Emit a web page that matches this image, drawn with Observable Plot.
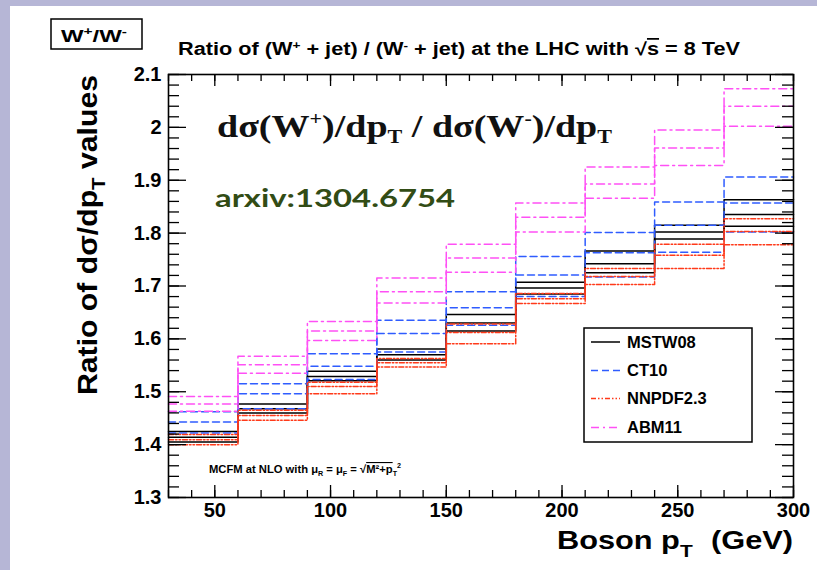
<!DOCTYPE html>
<html><head><meta charset="utf-8">
<script src="https://cdn.jsdelivr.net/npm/d3@7"></script>
<script src="https://cdn.jsdelivr.net/npm/@observablehq/plot@0.6"></script>
<style>
html,body{margin:0;padding:0;width:817px;height:570px;overflow:hidden;background:#b6b6d6;}
#panel{position:absolute;left:10px;top:6px;width:807px;height:564px;background:#fff;}
#chart{position:absolute;left:0;top:0;}
#overlay{position:absolute;left:0;top:0;}
</style></head><body>
<div id="panel"></div>
<div id="chart"></div>
<svg id="overlay" width="817" height="570"></svg>
<script>
// ---- data ----
const binEdges = [30, 60, 90, 120, 150, 180, 210, 240, 270, 300];
const seriesNames = ["MSTW08", "CT10", "NNPDF2.3", "ABM11"];

const mstwUp      = [1.425, 1.477, 1.539, 1.581, 1.646, 1.707, 1.766, 1.815, 1.863];
const mstwCentral = [1.414, 1.468, 1.529, 1.570, 1.630, 1.696, 1.742, 1.802, 1.835];
const mstwDown    = [1.405, 1.460, 1.521, 1.560, 1.615, 1.685, 1.725, 1.789, 1.813];

const ct10Up      = [1.462, 1.515, 1.572, 1.635, 1.689, 1.756, 1.801, 1.859, 1.906];
const ct10Central = [1.443, 1.496, 1.548, 1.610, 1.659, 1.721, 1.763, 1.815, 1.857];
const ct10Down    = [1.422, 1.468, 1.523, 1.575, 1.626, 1.680, 1.717, 1.764, 1.802];

const nnpdfUp      = [1.419, 1.465, 1.518, 1.563, 1.628, 1.686, 1.733, 1.779, 1.827];
const nnpdfCentral = [1.409, 1.455, 1.510, 1.555, 1.612, 1.676, 1.718, 1.758, 1.803];
const nnpdfDown    = [1.400, 1.446, 1.496, 1.547, 1.591, 1.667, 1.703, 1.733, 1.778];

const abmUp      = [1.491, 1.567, 1.633, 1.715, 1.779, 1.857, 1.925, 1.995, 2.073];
const abmCentral = [1.477, 1.551, 1.615, 1.689, 1.753, 1.830, 1.893, 1.961, 2.040];
const abmDown    = [1.463, 1.535, 1.597, 1.668, 1.726, 1.802, 1.866, 1.928, 2.002];

const yMajor = [1.3, 1.4, 1.5, 1.6, 1.7, 1.8, 1.9, 2.0, 2.1];
const xMajor = [50, 100, 150, 200, 250, 300];
const yMinor = d3.range(1.30, 2.1001, 0.02);
const xMinor = d3.range(30, 301, 10);

// ---- styles ----
const styles = {
  "MSTW08":   {stroke: "#000000", dash: null},
  "CT10":     {stroke: "#2f5cff", dash: "7,4"},
  "NNPDF2.3": {stroke: "#ff3a1a", dash: "5,2,1.5,2,1.5,2"},
  "ABM11":    {stroke: "#ff50f5", dash: "8,4,2,4"}
};

function stepRows(values, band) {
  return values.flatMap((v, i) => [
    {band, x: binEdges[i], y: v},
    {band, x: binEdges[i + 1], y: v}
  ]);
}
const seriesData = {
  "MSTW08":   [...stepRows(mstwUp, "u"), ...stepRows(mstwCentral, "c"), ...stepRows(mstwDown, "d")],
  "CT10":     [...stepRows(ct10Up, "u"), ...stepRows(ct10Central, "c"), ...stepRows(ct10Down, "d")],
  "NNPDF2.3": [...stepRows(nnpdfUp, "u"), ...stepRows(nnpdfCentral, "c"), ...stepRows(nnpdfDown, "d")],
  "ABM11":    [...stepRows(abmUp, "u"), ...stepRows(abmCentral, "c"), ...stepRows(abmDown, "d")]
};

const W = 817, H = 570, mL = 168, mR = 24, mT = 74, mB = 73;
const fw = W - mL - mR, fh = H - mT - mB;

const lineMarks = seriesNames.map(name => Plot.line(seriesData[name], {
  x: "x", y: "y", z: "band",
  stroke: styles[name].stroke, strokeWidth: 1.5,
  strokeDasharray: styles[name].dash || undefined
}));

const plot = Plot.plot({
  width: W, height: H,
  marginLeft: mL, marginRight: mR, marginTop: mT, marginBottom: mB,
  style: {background: "transparent", fontFamily: "'Liberation Sans', Arial, sans-serif", fontSize: "20px", fontWeight: "bold", color: "#000"},
  x: {domain: [30, 300]},
  y: {domain: [1.3, 2.1]},
  marks: [
    ...lineMarks,
    Plot.tickY(yMinor, {y: d => d, insetRight: fw - 11, stroke: "#000", strokeWidth: 1.3}),
    Plot.tickY(yMajor, {y: d => d, insetRight: fw - 18, stroke: "#000", strokeWidth: 1.3}),
    Plot.tickY(yMinor, {y: d => d, insetLeft: fw - 11, stroke: "#000", strokeWidth: 1.3}),
    Plot.tickY(yMajor, {y: d => d, insetLeft: fw - 18, stroke: "#000", strokeWidth: 1.3}),
    Plot.tickX(xMinor, {x: d => d, insetTop: fh - 7, stroke: "#000", strokeWidth: 1.3}),
    Plot.tickX(xMajor, {x: d => d, insetTop: fh - 12, stroke: "#000", strokeWidth: 1.3}),
    Plot.tickX(xMinor, {x: d => d, insetBottom: fh - 7, stroke: "#000", strokeWidth: 1.3}),
    Plot.tickX(xMajor, {x: d => d, insetBottom: fh - 12, stroke: "#000", strokeWidth: 1.3}),
    Plot.axisY(yMajor, {tickSize: 0, tickPadding: 7, tickFormat: d => d3.format("~g")(d), label: null}),
    Plot.axisX(xMajor, {tickSize: 0, tickPadding: 5, label: null}),
    Plot.frame({stroke: "#000", strokeWidth: 1.6})
  ]
});
document.getElementById("chart").appendChild(plot);

// ---- annotations ----
const ov = d3.select("#overlay");
const sans = "'Liberation Sans', Arial, sans-serif";

// box label
ov.append("rect").attr("x", 51).attr("y", 19).attr("width", 91).attr("height", 30)
  .attr("fill", "#fff").attr("stroke", "#000").attr("stroke-width", 1.5);
{
  const t = ov.append("text").attr("x", 61).attr("y", 42).attr("font-family", sans)
    .attr("font-weight", "bold").attr("font-size", 17).attr("textLength", 66).attr("lengthAdjust", "spacingAndGlyphs");
  t.append("tspan").text("W");
  t.append("tspan").attr("font-size", 11).attr("dy", -7).text("+");
  t.append("tspan").attr("dy", 7).text("/W");
  t.append("tspan").attr("font-size", 11).attr("dy", -7).text("-");
}

// title
{
  const t = ov.append("text").attr("x", 178).attr("y", 55).attr("font-family", sans)
    .attr("font-weight", "bold").attr("font-size", 17.5).attr("textLength", 562).attr("lengthAdjust", "spacingAndGlyphs");
  t.append("tspan").text("Ratio of (W");
  t.append("tspan").attr("font-size", 11).attr("dy", -6).text("+");
  t.append("tspan").attr("dy", 6).text(" + jet) / (W");
  t.append("tspan").attr("font-size", 11).attr("dy", -6).text("-");
  t.append("tspan").attr("dy", 6).text(" + jet) at the LHC with \u221A");
  t.append("tspan").attr("text-decoration", "overline").text("s");
  t.append("tspan").text(" = 8 TeV");
}

// y axis title
{
  const t = ov.append("text").attr("transform", "translate(97,235) rotate(-90)").attr("text-anchor", "middle")
    .attr("font-family", sans).attr("font-weight", "bold").attr("font-size", 28)
    .attr("textLength", 320).attr("lengthAdjust", "spacingAndGlyphs");
  t.append("tspan").text("Ratio of d\u03C3/dp");
  t.append("tspan").attr("font-size", 19).attr("dy", 8).text("T");
  t.append("tspan").attr("dy", -8).text(" values");
}

// x axis title
{
  const t = ov.append("text").attr("x", 793).attr("y", 549).attr("text-anchor", "end")
    .attr("font-family", sans).attr("font-weight", "bold").attr("font-size", 25)
    .attr("textLength", 236).attr("lengthAdjust", "spacingAndGlyphs");
  t.append("tspan").text("Boson p");
  t.append("tspan").attr("font-size", 17).attr("dy", 8).text("T");
  t.append("tspan").attr("dy", -8).attr("dx", 8).text(" (GeV)");
}

// big formula
{
  const t = ov.append("text").attr("x", 217).attr("y", 137)
    .attr("font-family", "'Liberation Serif', 'DejaVu Serif', serif").attr("font-weight", "bold").attr("font-size", 31)
    .attr("fill", "#111").attr("textLength", 395).attr("lengthAdjust", "spacingAndGlyphs");
  t.append("tspan").text("d\u03C3(W");
  t.append("tspan").attr("font-size", 18).attr("dy", -12).text("+");
  t.append("tspan").attr("dy", 12).text(")/dp");
  t.append("tspan").attr("font-size", 18).attr("dy", 6).text("T");
  t.append("tspan").attr("dy", -6).text(" / d\u03C3(W");
  t.append("tspan").attr("font-size", 18).attr("dy", -12).text("-");
  t.append("tspan").attr("dy", 12).text(")/dp");
  t.append("tspan").attr("font-size", 18).attr("dy", 6).text("T");
}

// arxiv
ov.append("text").attr("x", 215).attr("y", 207).attr("font-family", "Lato, 'Open Sans', sans-serif")
  .attr("font-weight", "bold").attr("font-size", 25).attr("fill", "#324c15")
  .attr("textLength", 240).attr("lengthAdjust", "spacingAndGlyphs").text("arxiv:1304.6754");

// MCFM note
{
  const t = ov.append("text").attr("x", 209).attr("y", 473).attr("font-family", sans)
    .attr("font-weight", "bold").attr("font-size", 11)
    .attr("textLength", 192).attr("lengthAdjust", "spacingAndGlyphs");
  t.append("tspan").text("MCFM at NLO with \u03BC");
  t.append("tspan").attr("font-size", 7).attr("dy", 3).text("R");
  t.append("tspan").attr("dy", -3).text(" = \u03BC");
  t.append("tspan").attr("font-size", 7).attr("dy", 3).text("F");
  t.append("tspan").attr("dy", -3).text(" = \u221A");
  t.append("tspan").attr("text-decoration", "overline").text("M\u00B2+p");
  t.append("tspan").attr("font-size", 7).attr("dy", 3).text("T");
  t.append("tspan").attr("font-size", 7).attr("dy", -8).text("2");
}

// legend
ov.append("rect").attr("x", 584).attr("y", 328).attr("width", 168).attr("height", 114)
  .attr("fill", "#fff").attr("stroke", "#000").attr("stroke-width", 1.5);
const legendY = [342, 370.5, 398.5, 427.5];
seriesNames.forEach((name, i) => {
  const s = styles[name];
  ov.append("line").attr("x1", 591).attr("x2", 620).attr("y1", legendY[i]).attr("y2", legendY[i])
    .attr("stroke", s.stroke).attr("stroke-width", 1.5).attr("stroke-dasharray", s.dash);
  ov.append("text").attr("x", 627).attr("y", legendY[i]).attr("dy", "0.36em")
    .attr("font-family", sans).attr("font-weight", "bold").attr("font-size", 16.5).text(name);
});
</script>
</body></html>
